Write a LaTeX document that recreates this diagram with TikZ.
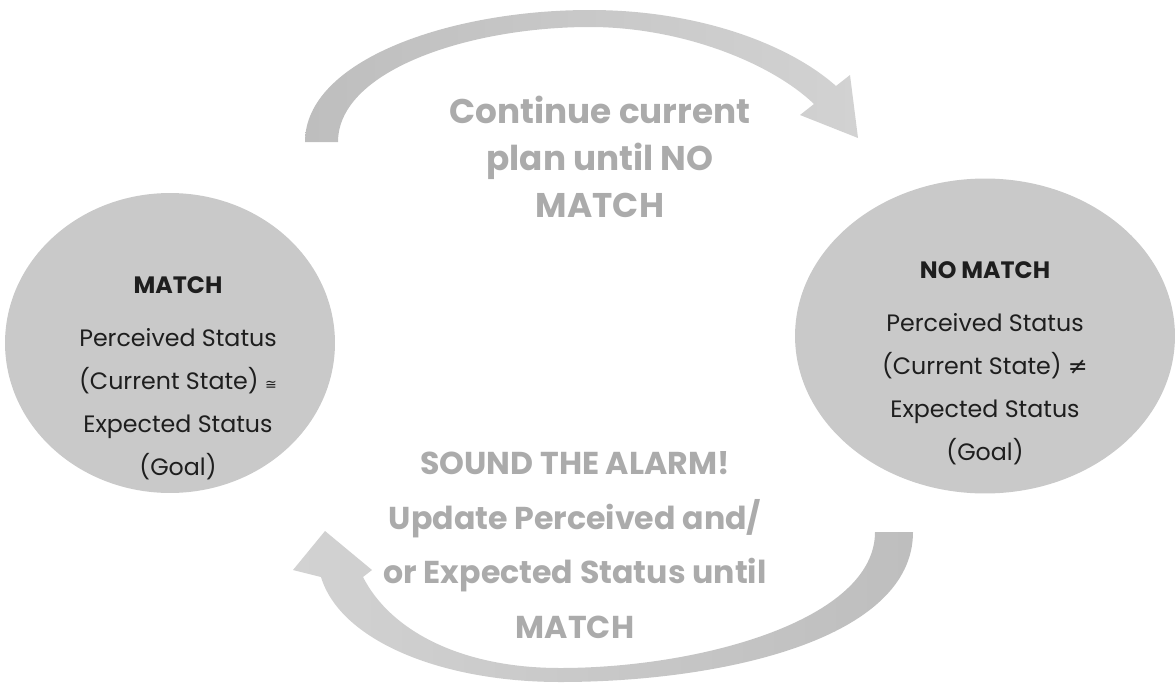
\documentclass[tikz,border=0pt]{standalone}
\usepackage{fontspec}
\setmainfont{Poppins}
\newfontfamily\symfont{DejaVu Sans}
\usetikzlibrary{positioning,shapes.geometric}
\definecolor{ringgray}{HTML}{C9C9C9}
\definecolor{banddark}{HTML}{BEBEBE}
\definecolor{bandlight}{HTML}{D2D2D2}
\definecolor{loopgray}{HTML}{ABABAB}
\definecolor{inkgray}{HTML}{1E1E1E}

\begin{document}
\begin{tikzpicture}[
  x=0.02cm, y=-0.02cm,
  statecirc/.style={ellipse, fill=ringgray, inner sep=0pt},
  titletxt/.style={font=\fontsize{13.5}{16}\selectfont\bfseries, text=inkgray},
  bodytxt/.style={font=\fontsize{13.5}{24.4}\selectfont, text=inkgray, align=center},
  looptxt/.style={font=\fontsize{19.5}{26.6}\selectfont\bfseries, text=loopgray, align=center},
  alarmtxt/.style={font=\fontsize{18}{31}\selectfont\bfseries, text=loopgray, align=center},
]
  \useasboundingbox (0,0) rectangle (1176,693);

  % the two states
  \node[statecirc, minimum width=6.6cm, minimum height=6.0cm] (match) at (170,343) {};
  \node[statecirc, minimum width=7.6cm, minimum height=6.3cm] (nomatch) at (985,336) {};

  \node[titletxt] (matchttl) at (178,285) {MATCH};
  \node[bodytxt, below=0.45cm of matchttl] (matchbody)
    {Perceived Status\\(Current State) {\symfont\footnotesize\char"2245}\\Expected Status\\(Goal)};
  \node[titletxt] (nomatchttl) at (985,270) {NO MATCH};
  \node[bodytxt, below=0.45cm of nomatchttl] (nomatchbody)
    {Perceived Status\\(Current State) {\symfont\char"2260}\\Expected Status\\(Goal)};

  % upper band: MATCH -> NO MATCH
  \coordinate (ptail) at (305,142);
  \coordinate (qtail) at (338,142);
  \shade[left color=banddark, right color=bandlight] (ptail) .. controls (305,60) and (450,10) .. (590,10)
    .. controls (700,10) and (790,45) .. (836,86)
    -- (850,75) -- (858,138) -- (800,115) -- (814,104)
    .. controls (770,62) and (680,27) .. (590,27)
    .. controls (470,27) and (338,70) .. (qtail) -- cycle;
  \node[looptxt] (keepon) at (600,157) {Continue current\\plan until NO\\MATCH};

  % lower band: NO MATCH -> MATCH
  \coordinate (rtail) at (913,532);
  \coordinate (stail) at (875,532);
  \shade[left color=bandlight, right color=banddark] (rtail) .. controls (913,640) and (720,682) .. (560,682)
    .. controls (440,682) and (340,640) .. (321,577)
    -- (293,570) -- (325,531) -- (372,570) -- (363,577)
    .. controls (390,630) and (460,668) .. (560,668)
    .. controls (700,668) and (875,620) .. (stail) -- cycle;
  \node[alarmtxt] (alarm) at (575,545) {SOUND THE ALARM!\\Update Perceived and/\\or Expected Status until\\MATCH};
\end{tikzpicture}
\end{document}
